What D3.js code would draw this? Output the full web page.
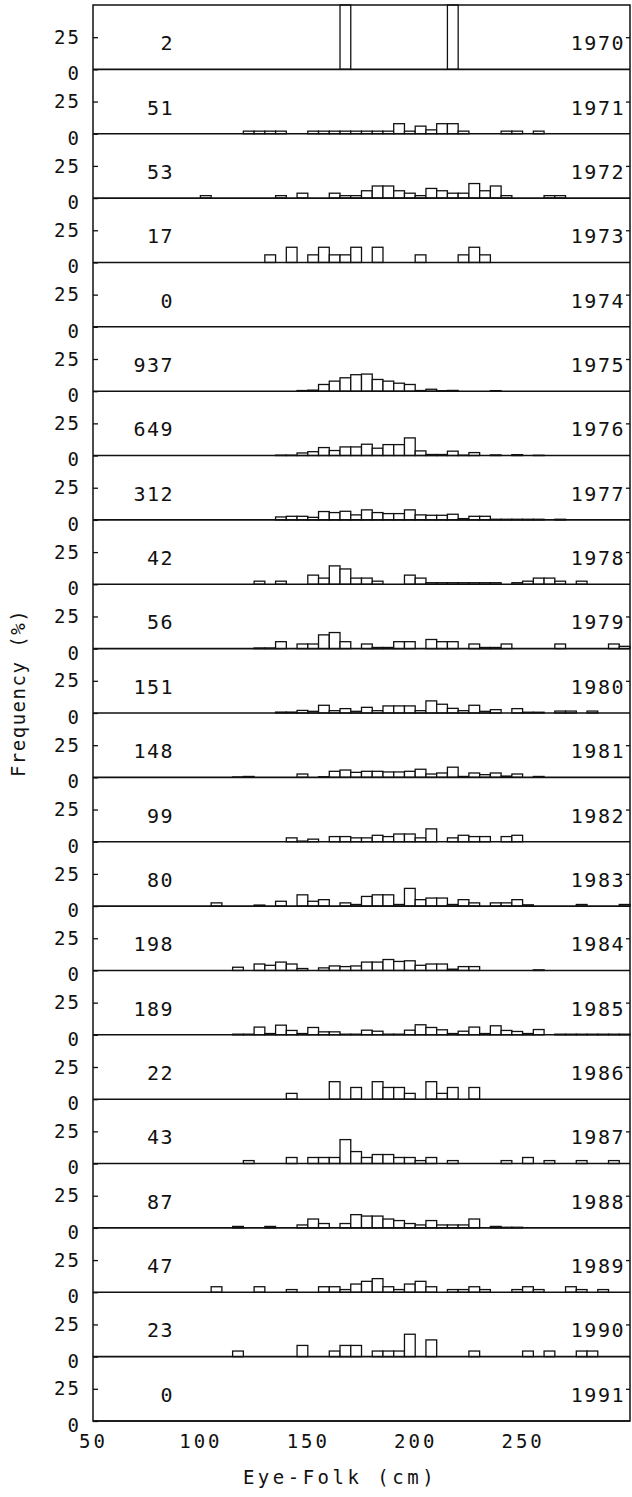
<!DOCTYPE html>
<html>
<head>
<meta charset="utf-8">
<script src="https://cdn.jsdelivr.net/npm/d3@7"></script>
<style>
  body { margin: 0; background: #fff; }
  svg { display: block; }
</style>
</head>
<body>
<script>
// yearly length-frequency (%), 5 cm bins: [bin start, percent]
const years = [1970, 1971, 1972, 1973, 1974, 1975, 1976, 1977, 1978, 1979, 1980,
               1981, 1982, 1983, 1984, 1985, 1986, 1987, 1988, 1989, 1990, 1991];
const counts = [2, 51, 53, 17, 0, 937, 649, 312, 42, 56, 151,
                148, 99, 80, 198, 189, 22, 43, 87, 47, 23, 0];

const f1970 = [[165,50],[215,50]];
const f1971 = [[120,2],[125,2],[130,2],[135,2],[150,2],[155,2],[160,2],[165,2],[170,2],[175,2],[180,2],[185,2],
               [190,7.8],[195,2],[200,5.9],[205,3],[210,7.8],[215,7.8],[220,2],[240,2],[245,2],[255,2]];
const f1972 = [[100,1.9],[135,1.9],[145,3.8],[160,3.8],[165,1.9],[170,1.9],[175,5.7],[180,9.4],[185,9.4],[190,5.7],
               [195,3.8],[200,1.9],[205,7.5],[210,5.7],[215,3.8],[220,3.8],[225,11.3],[230,5.7],[235,9.4],[240,1.9],[260,1.9],[265,1.9]];
const f1973 = [[130,5.9],[140,11.8],[150,5.9],[155,11.8],[160,5.9],[165,5.9],[170,11.8],[180,11.8],[200,5.9],[220,5.9],[225,11.8],[230,5.9]];
const f1974 = [];
const f1975 = [[145,0.5],[150,0.8],[155,5.2],[160,7.8],[165,10.4],[170,12.8],[175,13.3],[180,9.1],[185,7.8],[190,6.2],
               [195,5.2],[200,0.5],[205,1.5],[210,0.4],[215,0.6],[235,0.4]];
const f1976 = [[135,0.3],[140,0.3],[145,2],[150,3],[155,6.2],[160,3.9],[165,6.7],[170,6.7],[175,8.8],[180,5.7],[185,8.5],
               [190,8.5],[195,13.7],[200,3.6],[205,0.8],[210,0.8],[215,3.4],[220,0.3],[225,2.3],[235,0.5],[245,0.7],[255,0.2]];
const f1977 = [[135,2.3],[140,2.8],[145,2.8],[150,2],[155,6.5],[160,5.7],[165,6.7],[170,3.9],[175,7.8],[180,5.7],[185,4.9],
               [190,4.9],[195,7.8],[200,3.9],[205,3.6],[210,3.6],[215,4.4],[220,1],[225,2.8],[230,2.8],[235,0.5],[240,0.5],
               [245,0.5],[250,0.5],[255,0.5],[265,0.5]];
const f1978 = [[125,2.4],[135,2.4],[150,7.1],[155,4.8],[160,14.3],[165,11.9],[170,4.8],[175,4.8],[180,2.4],[195,7.1],[200,4.8],
               [205,1.2],[210,1.2],[215,1.2],[220,1.2],[225,1.2],[230,1.2],[235,1.2],[245,1.2],[250,2.4],[255,4.8],[260,4.8],
               [265,2.4],[275,2.4]];
const f1979 = [[125,0.5],[130,0.5],[135,5.4],[145,3.6],[150,3.6],[155,10.7],[160,12.5],[165,5.4],[175,3.6],[180,0.9],[185,0.9],
               [190,5.4],[195,5.4],[205,7.1],[210,5.4],[215,5.4],[225,3.6],[230,0.9],[235,0.9],[240,3.6],[265,3.6],[290,3.6],[295,1.8]];
const f1980 = [[135,0.7],[140,0.7],[145,2],[150,1.3],[155,6],[160,1.8],[165,3.4],[170,1.3],[175,4.4],[180,1.8],[185,5.5],
               [190,5.5],[195,5.5],[200,1.8],[205,9.4],[210,6.8],[215,3.6],[220,1.8],[225,6],[230,1.3],[235,2.6],[245,3.4],
               [250,0.6],[255,0.6],[265,1.5],[270,1.5],[280,1.5]];
const f1981 = [[115,0.3],[120,0.7],[145,2.6],[155,0.5],[160,4.7],[165,5.7],[170,3.9],[175,4.7],[180,4.7],[185,4.2],[190,4.2],
               [195,4.7],[200,6.3],[205,2.6],[210,3.4],[215,7.9],[220,0.7],[225,3.4],[230,2.1],[235,3.4],[240,1],[245,2.6],[255,0.7]];
const f1982 = [[140,3],[145,0.5],[150,2],[160,4],[165,4],[170,3],[175,3],[180,5],[185,4],[190,6],[195,6],[200,3],[205,10],
               [215,3],[220,5],[225,4],[230,4],[240,4],[245,5]];
const f1983 = [[105,2.5],[125,0.8],[135,3.75],[145,8.75],[150,3.75],[155,5],[165,2.5],[170,1.25],[175,7.5],[180,8.75],[185,8.75],
               [190,1.25],[195,13.75],[200,5],[205,6.25],[210,6.25],[215,1.25],[220,5],[225,2.5],[235,2.5],[240,2.5],[245,5],
               [250,1],[275,1.25],[295,1.25]];
const f1984 = [[115,2.5],[125,5],[130,4],[135,6.5],[140,5],[145,1.5],[155,2],[160,3.5],[165,3],[170,3.5],[175,6.5],[180,6.5],
               [185,8.5],[190,7],[195,7.5],[200,4],[205,5],[210,5],[215,1],[220,3],[225,3],[255,0.5]];
const f1985 = [[115,0.5],[120,0.5],[125,6],[130,1],[135,7.5],[140,3.4],[145,1],[150,5.7],[155,2.3],[160,2.3],[165,0.5],[170,0.5],
               [175,3.6],[180,2.8],[185,0.5],[190,0.5],[195,3.6],[200,7.8],[205,5.7],[210,3.9],[215,1],[220,2.8],[225,6],[230,1],
               [235,7],[240,3.4],[245,2.6],[250,1],[255,4.1],[265,0.5],[270,0.5],[275,0.5],[280,0.5],[285,0.5],[290,0.5],[295,0.5]];
const f1986 = [[140,4.5],[160,13.6],[170,9.1],[180,13.6],[185,9.1],[190,9.1],[195,4.5],[205,13.6],[210,4.5],[215,9.1],[225,9.1]];
const f1987 = [[120,2.3],[140,4.7],[150,4.7],[155,4.7],[160,4.7],[165,18.6],[170,9.3],[175,4.7],[180,7],[185,7],[190,4.7],
               [195,4.7],[200,2.3],[205,4.7],[215,2.3],[240,2.3],[250,4.7],[260,2.3],[275,2.3],[290,2.3]];
const f1988 = [[115,1.15],[130,1.15],[145,2.3],[150,6.9],[155,3.4],[165,3.4],[170,10.3],[175,9.2],[180,9.2],[185,6.9],[190,5.7],
               [195,3.4],[200,2.3],[205,5.7],[210,2.3],[215,2.3],[220,2.3],[225,6.9],[235,1.15],[240,0.5],[245,0.5]];
const f1989 = [[105,4.3],[125,4.3],[140,2.1],[155,4.3],[160,4.3],[165,2.1],[170,6.4],[175,8.5],[180,10.6],[185,4.3],[190,2.1],
               [195,6.4],[200,8.5],[205,4.3],[215,2.1],[220,2.1],[225,4.3],[230,2.1],[245,2.1],[250,4.3],[255,2.1],[270,4.3],
               [275,2.1],[285,2.1]];
const f1990 = [[115,4.35],[145,8.7],[160,4.35],[165,8.7],[170,8.7],[180,4.35],[185,4.35],[190,4.35],[195,17.4],[205,13],
               [225,4.35],[250,4.35],[260,4.35],[275,4.35],[280,4.35]];
const f1991 = [];

const freqs = [f1970, f1971, f1972, f1973, f1974, f1975, f1976, f1977, f1978, f1979, f1980,
               f1981, f1982, f1983, f1984, f1985, f1986, f1987, f1988, f1989, f1990, f1991];

const xTicks = [50, 100, 150, 200, 250];
const yTicks = [0, 25];
const binWidth = 5;

const font = "'DejaVu Sans Mono', 'Liberation Mono', monospace";
const ink = "#111";

const width = 632, height = 1497;
const margin = {top: 5, right: 2, bottom: 76, left: 93};
const plotW = width - margin.left - margin.right;
const plotH = height - margin.top - margin.bottom;

const svg = d3.select("body").append("svg")
    .attr("width", width)
    .attr("height", height);

const x = d3.scaleLinear()
    .domain([50, 300])
    .range([margin.left, margin.left + plotW]);

const band = d3.scaleBand()
    .domain(years)
    .range([margin.top, margin.top + plotH]);
const panelH = band.bandwidth();

for (let k = 0; k < years.length; k++) {
    const top = band(years[k]);
    const y = d3.scaleLinear()
        .domain([0, 50])
        .range([top + panelH, top])
        .clamp(true);

    const g = svg.append("g").attr("class", "panel");

    g.selectAll("rect")
        .data(freqs[k])
        .join("rect")
        .attr("x", d => x(d[0]))
        .attr("width", d => x(d[0] + binWidth) - x(d[0]))
        .attr("y", d => y(d[1]))
        .attr("height", d => y(0) - y(d[1]))
        .attr("fill", "#fff")
        .attr("stroke", ink)
        .attr("stroke-width", 1.3);

    // panel baseline
    g.append("line")
        .attr("x1", x.range()[0]).attr("x2", x.range()[1])
        .attr("y1", y(0)).attr("y2", y(0))
        .attr("stroke", ink).attr("stroke-width", 1.6);

    const left = g.append("g")
        .attr("transform", "translate(" + margin.left + ",0)")
        .call(d3.axisLeft(y).tickValues(yTicks).tickSize(-5).tickPadding(12));
    left.select(".domain").remove();
    left.selectAll("line").attr("stroke", ink).attr("stroke-width", 1.3);
    left.selectAll("text")
        .attr("font-family", font).attr("font-size", 19).attr("fill", ink)
        .attr("letter-spacing", 2)
        .attr("dy", d => d === 0 ? "0.55em" : "0.32em");

    const right = g.append("g")
        .attr("transform", "translate(" + (margin.left + plotW) + ",0)")
        .call(d3.axisRight(y).tickValues([25]).tickSize(-4).tickFormat(""));
    right.select(".domain").remove();
    right.selectAll("line").attr("stroke", ink).attr("stroke-width", 1.3);

    g.append("text")
        .attr("x", 174).attr("y", y(25) + 6)
        .attr("dy", "0.35em").attr("text-anchor", "end")
        .attr("font-family", font).attr("font-size", 20).attr("letter-spacing", 1.5)
        .attr("fill", ink)
        .text(counts[k]);

    g.append("text")
        .attr("x", 625).attr("y", y(25) + 6)
        .attr("dy", "0.35em").attr("text-anchor", "end")
        .attr("font-family", font).attr("font-size", 20).attr("letter-spacing", 1.5)
        .attr("fill", ink)
        .text(years[k]);
}

// frame
svg.append("rect")
    .attr("x", margin.left).attr("y", margin.top)
    .attr("width", plotW).attr("height", plotH)
    .attr("fill", "none").attr("stroke", ink).attr("stroke-width", 1.5);

const xAxis = svg.append("g")
    .attr("transform", "translate(0," + (margin.top + plotH) + ")")
    .call(d3.axisBottom(x).tickValues(xTicks).tickSize(0).tickPadding(14));
xAxis.select(".domain").remove();
xAxis.selectAll("text")
    .attr("font-family", font).attr("font-size", 19).attr("fill", ink)
    .attr("letter-spacing", 3);

svg.append("text")
    .attr("x", 340).attr("y", 1477)
    .attr("dy", "0.35em").attr("text-anchor", "middle")
    .attr("font-family", font).attr("font-size", 19).attr("letter-spacing", 3.5)
    .attr("fill", ink)
    .text("Eye-Folk (cm)");

svg.append("text")
    .attr("transform", "translate(18,693) rotate(-90)")
    .attr("dy", "0.35em").attr("text-anchor", "middle")
    .attr("font-family", font).attr("font-size", 19).attr("letter-spacing", 1.5)
    .attr("fill", ink)
    .text("Frequency (%)");
</script>
</body>
</html>
